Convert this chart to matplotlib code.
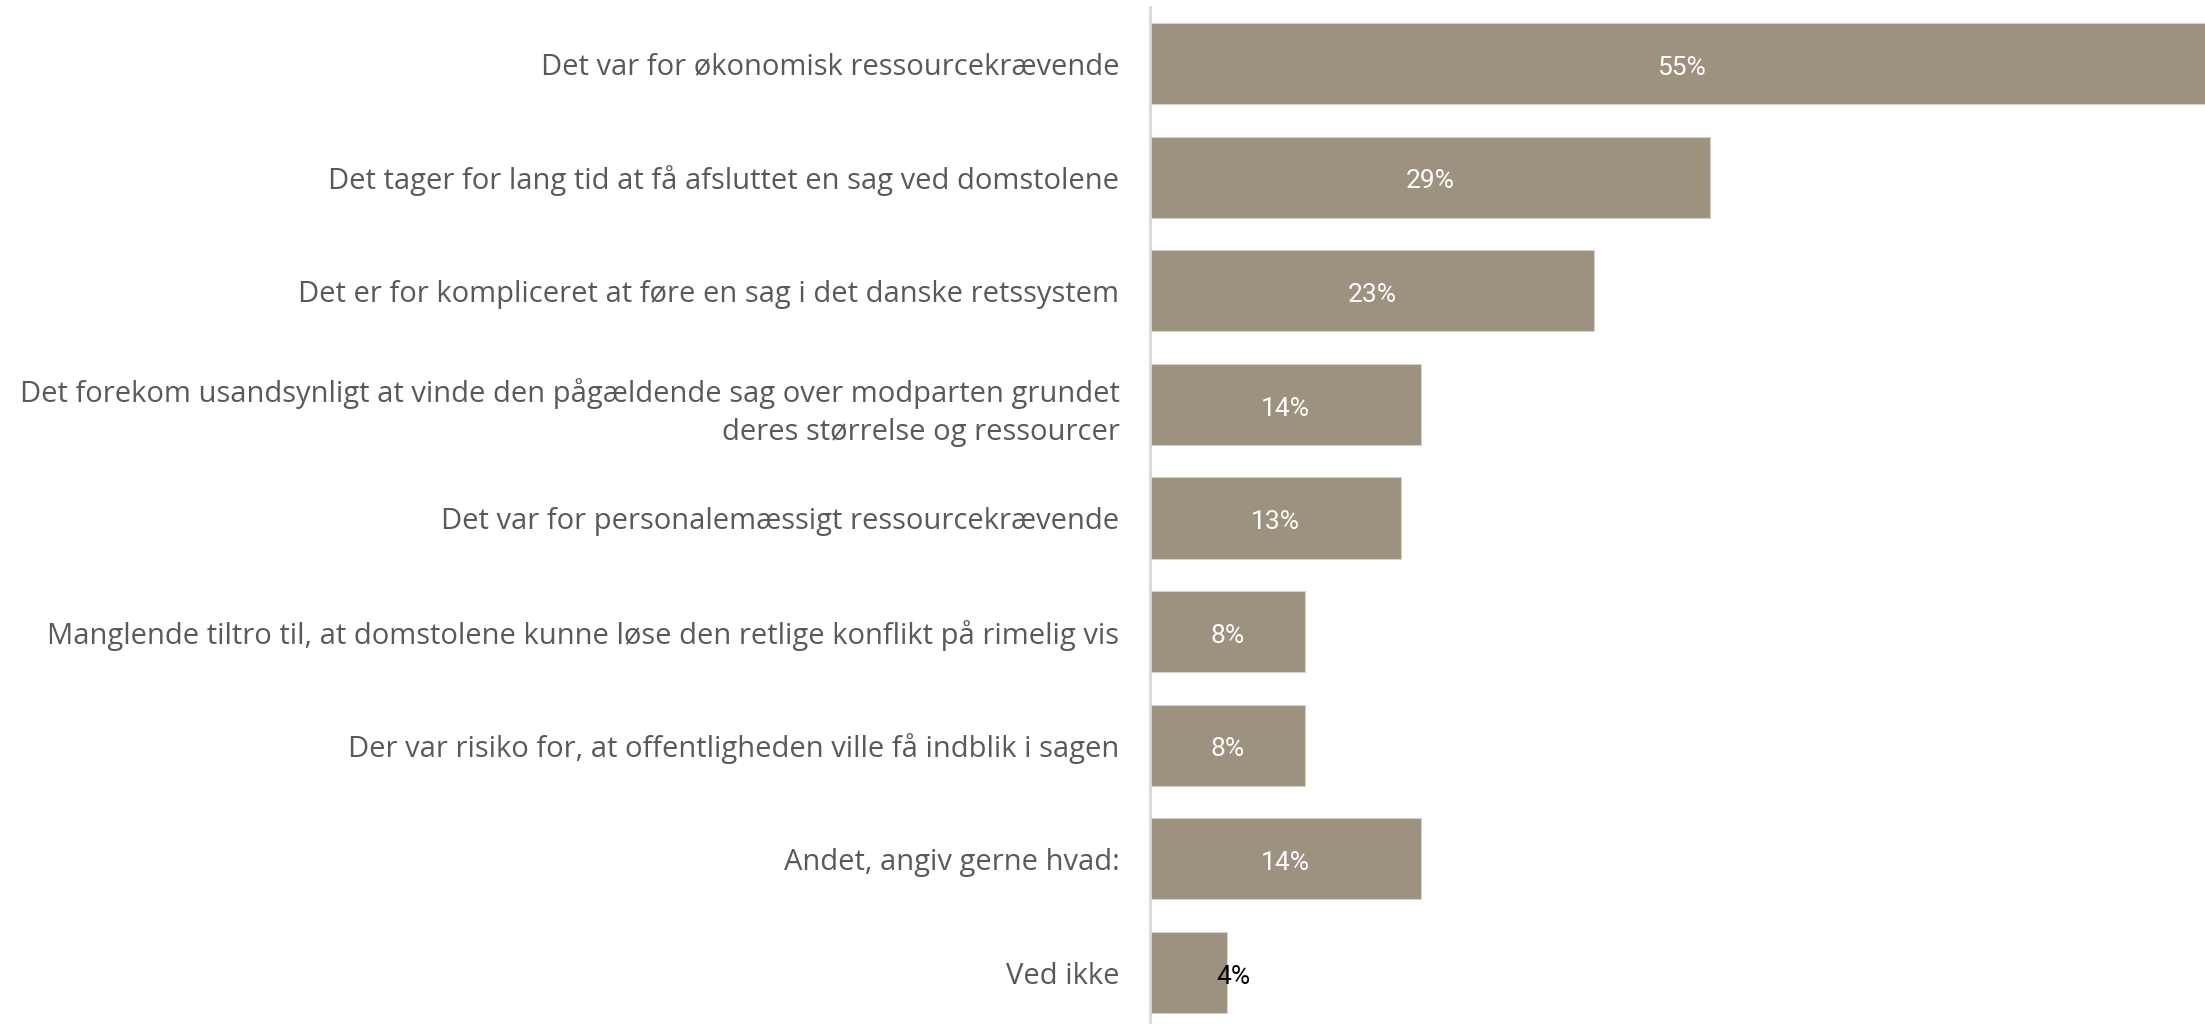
import matplotlib.pyplot as plt

# Survey answers: reasons for not taking a case to court
categories = [
    "Det var for økonomisk ressourcekrævende",
    "Det tager for lang tid at få afsluttet en sag ved domstolene",
    "Det er for kompliceret at føre en sag i det danske retssystem",
    "Det forekom usandsynligt at vinde den pågældende sag over modparten grundet\nderes størrelse og ressourcer",
    "Det var for personalemæssigt ressourcekrævende",
    "Manglende tiltro til, at domstolene kunne løse den retlige konflikt på rimelig vis",
    "Der var risiko for, at offentligheden ville få indblik i sagen",
    "Andet, angiv gerne hvad:",
    "Ved ikke",
]
values = [55, 29, 23, 14, 13, 8, 8, 14, 4]

bar_color = "#9d917f"
label_color = "#595959"

fig = plt.figure(figsize=(22.05, 10.24), dpi=100)
ax = fig.add_axes([1150 / 2205, 0, 1 - 1150 / 2205, 1 - 7 / 1024])

y = list(range(len(categories)))
ax.barh(y, values, height=0.713, color=bar_color, edgecolor="#d6d1ca", linewidth=0.8)

ax.set_xlim(0, 54.6)
ax.set_ylim(8.453, -0.497)

# value labels: white inside the bar, black next to very short bars
for i, v in enumerate(values):
    if v >= 6:
        ax.annotate(f"{v}%", xy=(v / 2, i), xytext=(0, -3), textcoords="offset points",
                    ha="center", va="center", color="white", fontsize=19, family="Roboto")
    else:
        ax.annotate(f"{v}%", xy=(v, i), xytext=(-8, -3), textcoords="offset points",
                    ha="left", va="center", color="black", fontsize=19, family="Roboto")

ax.set_yticks(y)
ax.set_yticklabels(categories, fontsize=21, color=label_color, family="Open Sans",
                   linespacing=1.4)
ax.tick_params(axis="y", length=0, pad=22)
ax.tick_params(axis="x", bottom=False, labelbottom=False)

for side in ["top", "right", "bottom"]:
    ax.spines[side].set_visible(False)
ax.spines["left"].set_color("#d9d9d9")
ax.spines["left"].set_linewidth(2)

fig.savefig("out.png", dpi=100)
